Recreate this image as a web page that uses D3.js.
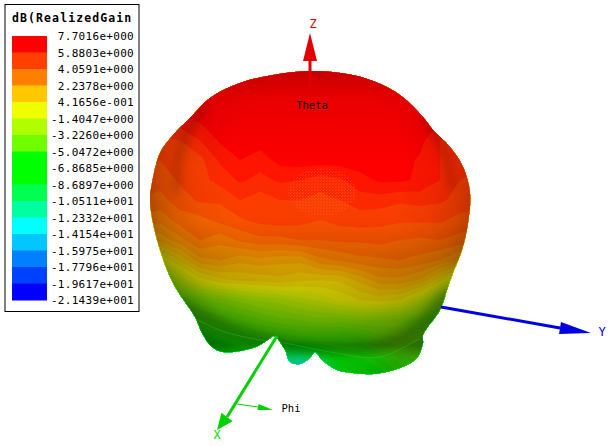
<!DOCTYPE html>
<html><head><meta charset="utf-8">
<style>html,body{margin:0;padding:0;background:#fff}svg{display:block}</style>
<script src="https://cdn.jsdelivr.net/npm/d3@7/dist/d3.min.js"></script></head>
<body><svg id="c" width="610" height="446"></svg>
<script>
// Legend
const legendTitle = "dB(RealizedGain";
const legendLabels = ["7.7016e+000","5.8803e+000","4.0591e+000","2.2378e+000","4.1656e-001","-1.4047e+000","-3.2260e+000","-5.0472e+000","-6.8685e+000","-8.6897e+000","-1.0511e+001","-1.2332e+001","-1.4154e+001","-1.5975e+001","-1.7796e+001","-1.9617e+001","-2.1439e+001"];
const legendBands = ["#ff0000","#ff4000","#ff8000","#ffc800","#f0ff00","#b0ff00","#70ff00","#00ff00","#00ff00","#00ff50","#00ffa0","#00ffff","#00c8ff","#0080ff","#0040ff","#0000ff"];
const rampColors = ["#ff0000","#ff4000","#ff8000","#ffc000","#ffff00","#c0ff00","#80ff00","#40ff00","#00ff00","#00ff40","#00ff80","#00ffc0","#00ffff","#00c0ff","#0080ff","#0040ff","#0000ff"];
const gridXs = [140,160,180,200,220,240,260,280,300,320,340,360,380,400,420,440,460,480];
const gridYs = [60,80,100,120,140,160,180,200,220,240,260,280,300,320,340,360,380];
const gainGrid = [
[7.7,7.7,7.7,7.7,7.7,7.7,7.7,7.7,7.7,7.7,7.7,7.7,7.7,7.7,7.7,7.7,7.7,7.7],
[7.7,7.7,7.7,7.7,7.7,7.7,7.7,7.7,7.7,7.7,7.7,7.7,7.7,7.7,7.7,7.7,7.7,7.7],
[7.7,7.7,7.7,7.7,7.7,7.7,7.7,7.7,7.7,7.7,7.7,7.7,7.7,7.7,7.7,7.7,7.7,7.7],
[7.2,7.2,7.2,7.5,7.7,7.7,7.7,7.7,7.7,7.7,7.7,7.7,7.7,7.7,7.7,7.5,7.2,7.2],
[6.0,6.0,6.2,6.8,7.5,7.7,7.7,7.7,7.7,7.7,7.7,7.7,7.7,7.7,7.6,6.8,6.5,6.5],
[5.8,5.6,5.9,6.0,6.9,7.4,7.1,7.6,7.7,7.7,7.7,7.7,7.7,7.7,7.3,6.8,6.3,6.3],
[5.4,5.2,5.7,6.0,6.4,6.9,6.6,6.9,6.8,6.5,6.7,7.2,7.5,7.5,7.3,6.8,6.2,6.0],
[5.0,4.8,5.3,5.7,5.7,6.2,5.9,6.2,6.2,6.0,6.2,6.5,6.5,6.3,6.4,6.3,6.0,5.8],
[4.2,4.0,4.7,4.8,5.2,5.5,5.8,5.9,5.8,5.6,5.8,5.9,5.8,5.7,5.7,5.7,5.4,5.2],
[3.0,2.8,3.6,4.4,4.0,4.5,4.8,4.8,5.0,5.0,5.1,5.1,5.2,5.0,4.9,5.0,4.8,4.6],
[0.0,0.0,1.5,3.0,3.2,2.8,3.0,2.8,2.8,3.6,3.9,4.2,4.3,4.4,4.2,3.8,3.0,3.0],
[-3,-3,-1.0,0.5,1.2,1.5,1.6,1.8,1.5,1.4,1.5,2.2,3.0,3.0,2.5,1.0,-1,-1],
[-5,-5,-4,-3,-2.5,-2,-1.5,-1.3,-0.7,-0.3,0.3,0.8,1.0,0.7,-0.5,-2.5,-4,-4],
[-6,-6,-6,-5,-4.5,-4,-3.5,-3,-2.8,-2.5,-2.5,-2.2,-2.2,-2.5,-3.5,-5,-6,-6],
[-7,-7,-7,-7,-6.5,-6,-5.5,-5.5,-5,-5,-5,-5,-4,-3.5,-4,-5,-6,-6],
[-7,-7,-7,-7,-6.8,-7,-8,-10,-11.5,-9,-7,-6.5,-6,-5,-4.5,-5,-6,-6],
[-7,-7,-7,-7,-7,-8,-9,-10,-11.5,-9,-7,-7,-7,-6,-6,-6,-6,-6]];
// Silhouette of the pattern surface, clockwise from the apex
const outlineX = [310,347,373,400,423,433,450,463,470,468,462,453,448,440,423,423,417,400,373,353,337,322,315,310,300,290,285,274,268,253,223,212,202,195,177,167,155,150,152,160,173,190,210,240,273];
const outlineY = [71,74,81,95,117,130,147,167,193,223,250,273,287,310,335,343,358,368,374,373,370,360,352,358,364,362,350,336,340,348,352,347,333,317,290,270,232,200,183,153,135,118,98,83,75];
// Soft dark creases on the surface
const creaseLowerX = [175,230,275,330,380,420,445];
const creaseLowerY = [302,328,342,350,345,325,295];
const creaseLeftX = [205,187,178,176];
const creaseLeftY = [108,132,160,190];
const creaseRightX = [425,437,447,452];
const creaseRightY = [118,138,160,185];
// Light seam where the back lobes meet the body
const seamX = [197,225,250,268,290,330,380,420];
const seamY = [320,332,338,341,344,352,357,338];
// Axes: [base, cone base, tip] in view coordinates
const axisNames = ["Z","Y","X","Phi"];
const axisColors = ["#e00000","#0000e0","#00d000","#00d000"];
const axisBaseX = [310,441,277,237], axisBaseY = [92,307,336,404];
const axisNeckX = [310,560,227,258], axisNeckY = [61,328,417,407];
const axisTipX = [310,591,217,273], axisTipY = [33,333,430,410];
const axisHalf = [7,6,7,3], axisShaft = [3,3,3,1];
const axisLabelX = [313,602,217,291], axisLabelY = [24,332,435,409];
// Vertical shading of the lit surface: view y, darkness
const shadeYs = [60,72,100,170,220,260,300,330,345,358,375];
const shadeAlpha = [.24,.22,.08,0,.03,.17,.25,.32,.36,.08,0];

const svg = d3.select("#c");
const view = d3.scaleLinear().domain([0,610]).range([0,610]);
const defs = svg.append("defs");
defs.append("clipPath").attr("id","body").append("path");
const outline = d3.line().x(d=>view(outlineX[d])).y(d=>view(outlineY[d])).curve(d3.curveCatmullRomClosed.alpha(0.5));
const outlineD = outline(d3.range(outlineX.length));
defs.select("#body path").attr("d",outlineD);
const rg = defs.append("radialGradient").attr("id","shade").attr("gradientUnits","userSpaceOnUse")
  .attr("cx",view(315)).attr("cy",view(175)).attr("r",view(170))
  .attr("gradientTransform","translate(315 175) scale(1 1.25) translate(-315 -175)");
[[0,0],[.5,0],[.7,.05],[.84,.13],[.94,.24],[1,.32]].forEach(([o,a])=>rg.append("stop").attr("offset",o).attr("stop-color","#000").attr("stop-opacity",a));
const lgv = defs.append("linearGradient").attr("id","vshade").attr("gradientUnits","userSpaceOnUse").attr("x1",0).attr("x2",0).attr("y1",view(60)).attr("y2",view(375));
shadeYs.forEach((y,i)=>lgv.append("stop").attr("offset",(y-60)/315).attr("stop-color","#000").attr("stop-opacity",shadeAlpha[i]));
defs.append("filter").attr("id","soft").attr("x","-20%").attr("y","-20%").attr("width","140%").attr("height","140%")
  .append("feGaussianBlur").attr("stdDeviation",4);
const pat = defs.append("pattern").attr("id","dither").attr("width",3).attr("height",3).attr("patternUnits","userSpaceOnUse");
pat.append("rect").attr("width",1).attr("height",1).attr("fill","#ff7050");
pat.append("rect").attr("x",2).attr("y",1).attr("width",1).attr("height",1).attr("fill","#ff8060");

// Surface
const color = d3.scaleLinear().domain(d3.range(17).map(i=>7.7016-i*(7.7016+21.439)/16)).range(rampColors).clamp(true);
const gx = d3.scaleLinear().domain([0,gridXs.length-1]).range([view(gridXs[0]),view(gridXs[gridXs.length-1])]);
const gy = d3.scaleLinear().domain([0,gridYs.length-1]).range([view(gridYs[0]),view(gridYs[gridYs.length-1])]);
const contours = d3.contours().size([gridXs.length,gridYs.length]).thresholds(d3.range(-22,8,0.6))(gainGrid.flat());
const geo = d3.geoPath(d3.geoTransform({point(x,y){this.stream.point(gx(x-.5),gy(y-.5));}}));
const body = svg.append("g").attr("clip-path","url(#body)");
body.append("path").attr("d",outlineD).attr("fill",color(-7));
body.selectAll("path.c").data(contours).join("path").attr("class","c").attr("d",geo)
  .attr("fill",d=>color(d.value+0.3)).attr("stroke",d=>color(d.value+0.3)).attr("stroke-width",.3);
body.append("rect").attr("width",610).attr("height",446).attr("fill","url(#shade)");
body.append("rect").attr("width",610).attr("height",446).attr("fill","url(#vshade)");
body.append("ellipse").attr("cx",view(322)).attr("cy",view(192)).attr("rx",34).attr("ry",24).attr("fill","url(#dither)").attr("opacity",.32);
const creases = body.append("g").attr("filter","url(#soft)").attr("fill","none").attr("stroke","#000").attr("stroke-linecap","round");
[[creaseLowerX,creaseLowerY,12,.18],[creaseLeftX,creaseLeftY,9,.15],[creaseRightX,creaseRightY,9,.15]].forEach(([xs,ys,w,o])=>{
  creases.append("path").attr("d",d3.line().x(d=>view(xs[d])).y(d=>view(ys[d])).curve(d3.curveCatmullRom)(d3.range(xs.length)))
    .attr("stroke-width",w).attr("stroke-opacity",o);
});
body.append("path").attr("d",d3.line().x(d=>view(seamX[d])).y(d=>view(seamY[d])).curve(d3.curveCatmullRom)(d3.range(seamX.length)))
  .attr("fill","none").attr("stroke","#50e070").attr("stroke-width",.8).attr("stroke-opacity",.3);

// Axes
const ag = svg.append("g");
axisNames.forEach((n,i)=>{
  const dx=axisTipX[i]-axisNeckX[i], dy=axisTipY[i]-axisNeckY[i], L=Math.hypot(dx,dy), nx=-dy/L*axisHalf[i], ny=dx/L*axisHalf[i];
  ag.append("line").attr("x1",view(axisBaseX[i])).attr("y1",view(axisBaseY[i])).attr("x2",view(axisNeckX[i])).attr("y2",view(axisNeckY[i]))
    .attr("stroke",axisColors[i]).attr("stroke-width",axisShaft[i]);
  ag.append("path").attr("fill",axisColors[i])
    .attr("d",d3.line()([[axisNeckX[i]+nx,axisNeckY[i]+ny],[axisTipX[i],axisTipY[i]],[axisNeckX[i]-nx,axisNeckY[i]-ny]].map(p=>p.map(view)))+"Z");
  const isPhi = n==="Phi";
  ag.append("text").text(n).attr("x",view(axisLabelX[i])).attr("y",view(axisLabelY[i])).attr("text-anchor","middle").attr("dominant-baseline","middle")
    .attr("font-family","DejaVu Sans Mono").attr("font-size",isPhi?10.5:12).attr("fill",isPhi?"#000":(axisColors[i]==="#00d000"?"#00e000":axisColors[i]));
});
ag.append("text").text("Theta").attr("x",view(312)).attr("y",view(106)).attr("text-anchor","middle").attr("dominant-baseline","middle").attr("font-family","DejaVu Sans Mono").attr("font-size",10.5).attr("fill","#000");

// Legend box
const lg = svg.append("g");
lg.append("rect").attr("x",5).attr("y",4.5).attr("width",134).attr("height",307).attr("fill","#fff").attr("stroke","#000");
lg.append("text").text(legendTitle).attr("x",12).attr("y",18).attr("dominant-baseline","middle").attr("font-family","DejaVu Sans Mono").attr("font-weight","bold").attr("font-size",11.5).attr("letter-spacing",1.1).attr("fill","#000");
const ly = d3.scaleBand().domain(d3.range(legendBands.length)).range([36,300]);
lg.selectAll("rect.b").data(legendBands).join("rect").attr("class","b").attr("x",12).attr("width",35)
  .attr("y",(d,i)=>ly(i)).attr("height",ly.bandwidth()+.5).attr("fill",d=>d);
const lt = d3.scalePoint().domain(d3.range(legendLabels.length)).range([37,301]);
lg.selectAll("text.l").data(legendLabels).join("text").attr("class","l").text(d=>d)
  .attr("x",134).attr("y",(d,i)=>lt(i)).attr("text-anchor","end").attr("dominant-baseline","middle")
  .attr("font-family","DejaVu Sans Mono").attr("font-size",11).attr("letter-spacing",.3).attr("fill","#000");
</script></body></html>
